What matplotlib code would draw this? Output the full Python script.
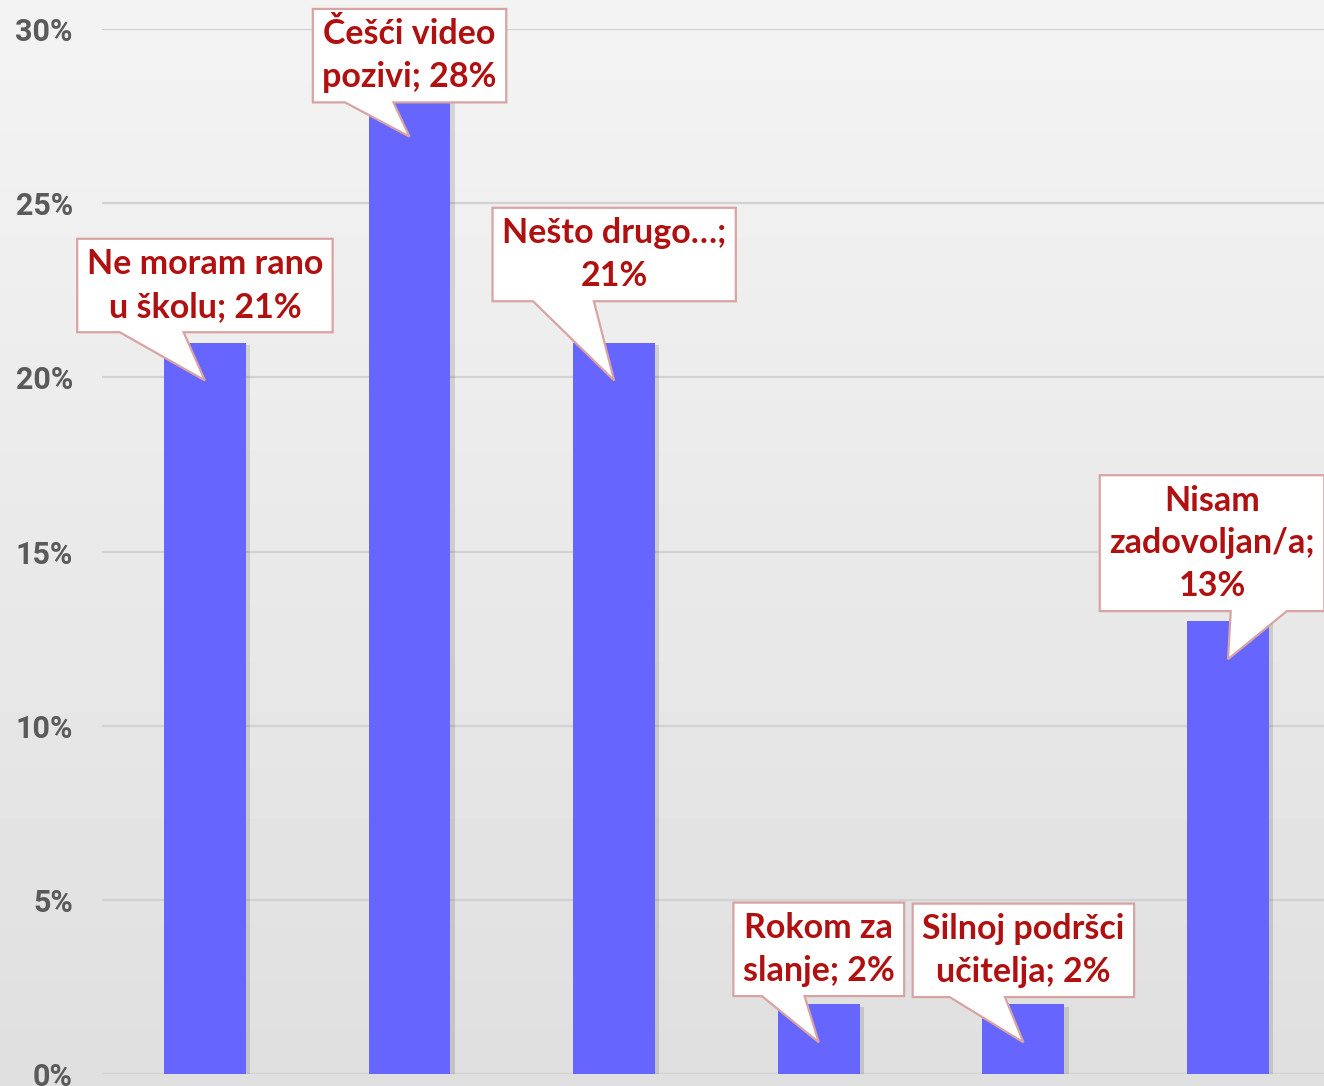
import numpy as np
import matplotlib; matplotlib.use("Agg"); import matplotlib.pyplot as plt
from matplotlib.patches import Polygon
import matplotlib.patheffects as pe

CATS=["Ne moram rano\nu školu","Češći video\npozivi","Nešto drugo…","Rokom za\nslanje","Silnoj podršci\nučitelja","Nisam\nzadovoljan/a"]
SEPS=["; ","; ",";\n","; ","; ",";\n"]
VALUES=[21,28,21,2,2,13]
YTICKS=[0,5,10,15,20,25,30]

# callout box centre offset from bar top (pixels), tip sits a bit inside the bar
OFFS=[(0,57),(0,43),(0,88),(0,55),(0,54),(-16,78)]
TIP_DROP=38
RED="#B01010"; EDGE="#D9A3A3"; BAR="#6666FF"

W,H=1324,1086
fig=plt.figure(figsize=(W/100,H/100),dpi=100)
bg=fig.add_axes([0,0,1,1]); bg.axis("off")
grad=np.linspace(0.955,0.875,256)[:,None]
bg.imshow(grad,aspect="auto",cmap="gray",vmin=0,vmax=1,extent=(0,1,0,1))

ax=fig.add_axes([102/W,12/H,1-102/W,(1074-29)/H]); ax.patch.set_alpha(0)
x=np.arange(len(VALUES))
ax.bar(x,VALUES,width=0.4,color=BAR,zorder=3,
       path_effects=[pe.SimplePatchShadow(offset=(3,-2),shadow_rgbFace="k",alpha=0.12),pe.Normal()])
ax.set_xlim(-0.503,5.469); ax.set_ylim(0,30)
ax.set_yticks(YTICKS); ax.set_yticklabels([f"{v}%" for v in YTICKS])
ax.set_xticks([])
ax.grid(axis="y",color="#d2d2d2",lw=1.6,zorder=0)
for s in ax.spines.values(): s.set_visible(False)
ax.tick_params(length=0,pad=21,labelsize=22,labelcolor="#5a5a5a")
for t in ax.get_yticklabels():
    t.set_family(["Roboto","DejaVu Sans"]); t.set_weight("bold")

anns=[]
for i,(c,s,v,(dx,dy)) in enumerate(zip(CATS,SEPS,VALUES,OFFS)):
    a=ax.annotate(f"{c}{s}{v}%",xy=(i,v),xytext=(dx,dy),textcoords="offset pixels",
                  ha="center",va="center",fontsize=24.5,color=RED,fontweight="bold",
                  family=["Lato","DejaVu Sans"],linespacing=1.4,zorder=6,annotation_clip=False,
                  bbox=dict(boxstyle="square,pad=0.28",fc="none",ec="none"))
    anns.append((a,i,v))

fig.canvas.draw(); r=fig.canvas.get_renderer()
for a,i,v in anns:
    bb=a.get_bbox_patch().get_window_extent(r)
    tx,ty=ax.transData.transform((i,v)); ty-=TIP_DROP
    x0,x1,y0,y1=bb.x0,bb.x1,bb.y0,bb.y1; w=x1-x0
    f=(1/6,5/12) if tx<=(x0+x1)/2+2 else (7/12,5/6)
    pts=[(x0,y0),(x0+w*f[0],y0),(tx,ty),(x0+w*f[1],y0),(x1,y0),(x1,y1),(x0,y1)]
    ax.add_artist(Polygon(pts,closed=True,transform=None,fc="white",ec=EDGE,lw=1.6,zorder=5,clip_on=False))

fig.savefig("out.png",dpi=100)
